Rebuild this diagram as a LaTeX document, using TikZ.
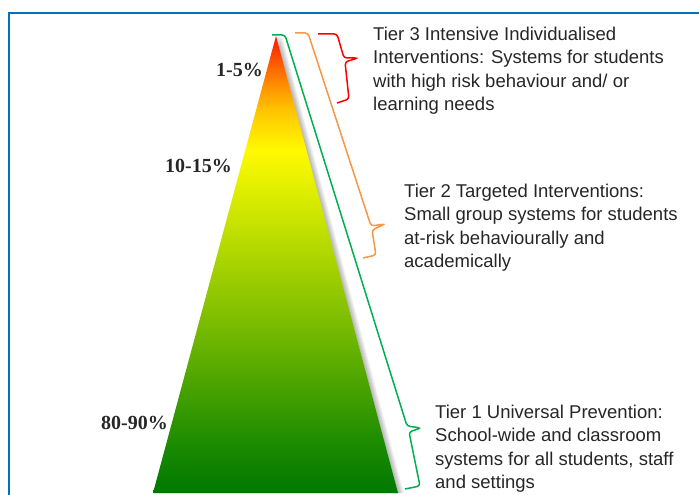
\documentclass[tikz,border=0pt]{standalone}
\usepackage{fontspec}
\setmainfont{Liberation Sans}
\newfontfamily\pctfont{Liberation Serif}
\usepackage{xcolor}
\usetikzlibrary{positioning,calc}
\definecolor{frameblue}{RGB}{0,112,192}
\definecolor{tiergreen}{RGB}{0,176,80}
\definecolor{tierorange}{RGB}{247,150,70}
\definecolor{tierred}{RGB}{255,0,0}
\definecolor{tiertext}{RGB}{38,38,38}
\definecolor{pyrA}{RGB}{0,120,0}
\definecolor{pyrB}{RGB}{25,138,0}
\definecolor{pyrC}{RGB}{118,186,0}
\definecolor{pyrD}{RGB}{215,235,0}
\definecolor{pyrE}{RGB}{255,250,0}
\definecolor{pyrF}{RGB}{255,195,0}
\definecolor{pyrG}{RGB}{255,135,0}
\definecolor{pyrH}{RGB}{250,25,0}
\pgfdeclareverticalshading{pyramid}{100bp}{
  color(0bp)=(pyrA); color(25bp)=(pyrA); color(30bp)=(pyrB);
  color(43bp)=(pyrC); color(57bp)=(pyrD); color(62.5bp)=(pyrE);
  color(67bp)=(pyrF); color(70bp)=(pyrG); color(75bp)=(pyrH);
  color(100bp)=(pyrH)}
\tikzset{
  tier/.style={anchor=north west, inner sep=0pt, align=left, text=tiertext,
    font=\fontsize{18.5}{23.3}\selectfont},
  pct/.style={anchor=east, inner sep=0pt, text=black!85,
    font=\pctfont\bfseries\fontsize{20}{22}\selectfont},
  tierbrace/.style={line width=1.5pt, rounded corners=3pt},
}

\begin{document}
\begin{tikzpicture}[x=1pt,y=-1pt]
    \useasboundingbox (0,0) rectangle (699,495);
    % frame
    \draw[frameblue, line width=2pt] (9,496) -- (9,13) -- (700,13);
    % pyramid with its shadow
    \coordinate (apex) at (276,36);
    \coordinate (baseL) at (153,493);
    \coordinate (baseR) at (398,493);
    \foreach \s in {1,...,6}
      \fill[black, opacity=0.05] ($(apex)+(\s,0)$) -- ($(baseR)+(\s,0)$) -- ($(baseL)+(\s,0)$) -- cycle;
    \shade[shading=pyramid] (apex) -- (baseR) -- (baseL) -- cycle;
    \node[pct] (p1) at (263,70) {1-5\%};
    \node[pct] (p2) at (232,166) {10-15\%};
    \node[pct] (p3) at (168,423) {80-90\%};
    % braces
    \draw[tierbrace, tiergreen] (272,35) -- (285,35) -- (407,426) -- (421,428) -- (409,432) -- (420,486) -- (405,489);
    \draw[tierbrace, tierorange] (295,33) -- (308,33) -- (371,226) -- (385,224) -- (372,230) -- (376,255) -- (363,258);
    \draw[tierbrace, tierred] (318,34) -- (337,34) -- (344,58) -- (358,58) -- (345,62) -- (349,99) -- (337,103);
    % tiers
    \node[tier] (t3) at (373,27) {Tier 3 Intensive Individualised\\Interventions: Systems for students\\with high risk behaviour and/ or\\learning needs};
    \node[tier] (t2) at (404,184) {Tier 2 Targeted Interventions:\\Small group systems for students\\at-risk behaviourally and\\academically};
    \node[tier] (t1) at (435,405) {Tier 1 Universal Prevention:\\School-wide and classroom\\systems for all students, staff\\and settings};
\end{tikzpicture}
\end{document}
